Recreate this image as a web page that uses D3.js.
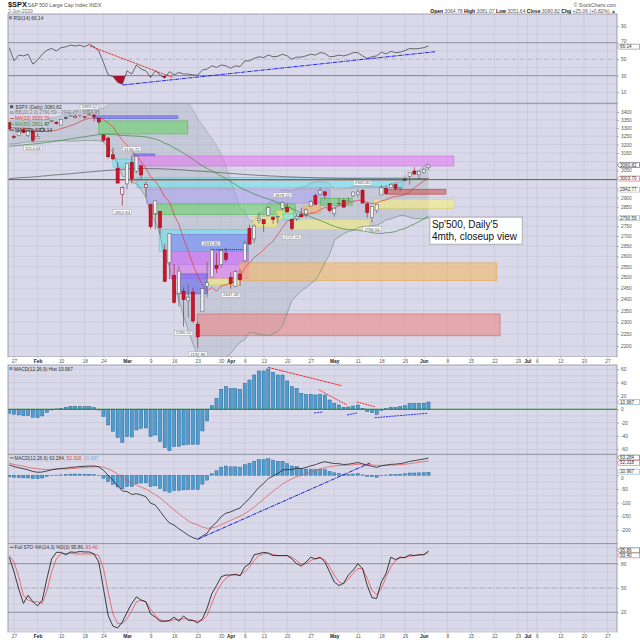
<!DOCTYPE html>
<html><head><meta charset="utf-8">
<script src="https://cdn.jsdelivr.net/npm/d3@7"></script>
<style>
html,body{margin:0;padding:0;background:#fff;}
svg{display:block;font-family:"Liberation Sans",Arial,sans-serif;}
</style></head><body>
<svg id="c" width="640" height="640"></svg>
<script>
// ---------- DATA ----------
const dates = ["Jan 24","Jan 27","Jan 28","Jan 29","Jan 30","Jan 31","Feb 3","Feb 4","Feb 5","Feb 6","Feb 7","Feb 10","Feb 11","Feb 12","Feb 13","Feb 14","Feb 18","Feb 19","Feb 20","Feb 21","Feb 24","Feb 25","Feb 26","Feb 27","Feb 28","Mar 2","Mar 3","Mar 4","Mar 5","Mar 6","Mar 9","Mar 10","Mar 11","Mar 12","Mar 13","Mar 16","Mar 17","Mar 18","Mar 19","Mar 20","Mar 23","Mar 24","Mar 25","Mar 26","Mar 27","Mar 30","Mar 31","Apr 1","Apr 2","Apr 3","Apr 6","Apr 7","Apr 8","Apr 9","Apr 13","Apr 14","Apr 15","Apr 16","Apr 17","Apr 20","Apr 21","Apr 22","Apr 23","Apr 24","Apr 27","Apr 28","Apr 29","Apr 30","May 1","May 4","May 5","May 6","May 7","May 8","May 11","May 12","May 13","May 14","May 15","May 18","May 19","May 20","May 21","May 22","May 26","May 27","May 28","May 29","Jun 1","Jun 2"];
const open = [3333.10,3247.16,3255.35,3289.46,3256.45,3282.33,3235.66,3280.61,3324.91,3344.92,3335.54,3318.28,3365.87,3370.50,3365.90,3378.08,3369.04,3380.39,3380.45,3360.50,3257.61,3238.94,3139.90,3062.54,2916.90,2974.28,3096.46,3045.75,3075.70,2954.20,2863.89,2813.48,2825.60,2630.86,2569.99,2508.59,2425.66,2436.50,2393.48,2431.94,2290.71,2344.44,2457.77,2501.29,2555.87,2558.98,2614.69,2498.08,2458.54,2514.92,2578.28,2738.65,2685.00,2776.99,2782.46,2805.10,2795.64,2799.34,2842.43,2845.62,2784.81,2787.89,2810.42,2812.64,2854.65,2909.96,2918.46,2930.91,2869.09,2815.01,2868.88,2883.14,2878.26,2908.83,2915.46,2939.50,2865.86,2794.54,2829.95,2913.86,2948.59,2953.63,2969.95,2948.05,3004.08,3015.65,3046.61,3025.17,3038.78,3064.78];
const high = [3333.18,3258.85,3285.78,3293.47,3285.91,3282.33,3268.44,3306.92,3337.58,3347.96,3341.42,3352.26,3375.63,3381.47,3385.09,3380.69,3375.01,3393.52,3389.15,3360.76,3259.81,3246.99,3182.51,3097.07,2959.72,3090.96,3136.72,3130.97,3083.04,2985.93,2863.89,2882.59,2825.60,2660.95,2711.33,2562.98,2553.93,2453.57,2466.97,2453.01,2300.73,2449.71,2571.42,2637.01,2615.91,2631.80,2641.39,2522.75,2533.22,2538.18,2676.85,2756.89,2760.75,2818.57,2782.46,2851.85,2801.88,2806.51,2879.22,2868.98,2785.54,2815.10,2844.90,2842.71,2887.72,2921.15,2954.86,2930.91,2869.09,2844.24,2898.23,2891.11,2901.92,2932.16,2944.25,2945.82,2874.14,2852.80,2865.01,2968.09,2964.21,2980.29,2978.50,2956.76,3021.72,3036.25,3068.67,3049.17,3062.18,3081.07];
const low = [3281.53,3234.50,3253.22,3271.89,3242.80,3214.68,3235.66,3280.61,3313.75,3334.39,3322.12,3317.77,3352.72,3369.72,3360.52,3366.15,3355.61,3378.83,3341.02,3328.45,3214.65,3118.77,3108.99,2977.39,2855.84,2945.19,2976.63,3034.38,2999.83,2901.54,2734.43,2734.00,2707.22,2478.86,2492.37,2380.94,2367.04,2280.52,2319.78,2295.56,2191.86,2344.44,2407.53,2500.72,2520.02,2545.28,2571.15,2447.49,2455.79,2459.96,2574.57,2657.67,2663.30,2762.36,2721.17,2805.10,2761.54,2764.32,2830.88,2820.43,2727.10,2775.95,2794.26,2791.76,2852.89,2860.71,2912.16,2892.47,2821.61,2797.85,2863.55,2847.65,2876.48,2902.88,2903.44,2869.59,2793.15,2766.64,2816.78,2913.86,2922.35,2953.63,2938.57,2933.59,2988.17,2969.75,3023.40,2998.61,3031.54,3051.64];
const close = [3295.47,3243.63,3276.24,3273.40,3283.66,3225.52,3248.92,3297.59,3334.69,3345.78,3327.71,3352.09,3357.75,3379.45,3373.94,3380.16,3370.29,3386.15,3373.23,3337.75,3225.89,3128.21,3116.39,2978.76,2954.22,3090.23,3003.37,3130.12,3023.94,2972.37,2746.56,2882.23,2741.38,2480.64,2711.02,2386.13,2529.19,2398.10,2409.39,2304.92,2237.40,2447.33,2475.56,2630.07,2541.47,2626.65,2584.59,2470.50,2526.90,2488.65,2663.68,2659.41,2749.98,2789.82,2761.63,2846.06,2783.36,2799.55,2874.56,2823.16,2736.56,2799.31,2797.80,2836.74,2878.48,2863.39,2939.51,2912.43,2830.71,2842.74,2868.44,2848.42,2881.19,2929.80,2930.32,2870.12,2820.00,2852.50,2863.70,2953.91,2922.94,2971.61,2948.51,2955.45,2991.77,3036.13,3029.73,3044.31,3055.73,3080.82];
const prevClose0 = 3325.54;

const ma10 = [3303.6,3301.4,3300.2,3299.3,3298.7,3289.6,3281.5,3279.2,3280.5,3282.5,3285.7,3296.6,3304.7,3315.3,3324.3,3339.8,3351.9,3360.8,3364.7,3363.9,3353.7,3331.3,3307.1,3267.1,3225.1,3196.1,3159.4,3133.8,3098.9,3062.4,3014.4,2989.8,2952.3,2902.5,2878.2,2807.8,2760.4,2687.2,2625.7,2559.0,2508.0,2464.6,2438.0,2452.9,2436.0,2460.0,2465.5,2472.8,2484.5,2502.9,2545.5,2566.7,2594.2,2610.2,2632.2,2654.1,2674.0,2706.9,2741.7,2775.1,2782.4,2796.4,2801.2,2805.9,2817.6,2819.3,2834.9,2846.2,2841.8,2843.8,2857.0,2861.9,2870.2,2879.5,2884.7,2885.4,2873.4,2867.4,2870.7,2881.8,2887.3,2899.6,2906.3,2908.9,2915.1,2931.7,2952.6,2971.8,2991.0,3003.7];
const ma50 = [3190,3192,3195,3198,3201,3203,3206,3209,3213,3217,3221,3225,3229,3234,3238,3243,3247,3252,3256,3260,3262,3262,3261,3258,3255,3254,3252,3251,3249,3246,3240.2,3233.0,3223.1,3208.3,3197.9,3180.4,3166.3,3149.4,3132.8,3113.8,3093.1,3076.7,3060.5,3047.4,3032.5,3018.7,3003.8,2986.7,2970.8,2954.1,2941.5,2929.8,2919.3,2909.6,2899.2,2891.6,2882.3,2872.3,2863.1,2852.6,2840.8,2829.8,2818.6,2807.7,2797.8,2787.5,2778.8,2769.4,2758.5,2748.6,2741.5,2735.9,2731.2,2730.2,2729.7,2725.3,2721.6,2716.1,2712.9,2712.5,2716.0,2717.8,2722.0,2731.5,2737.1,2750.1,2760.1,2773.0,2786.0,2801.5];
const ma200 = [3004,3006,3008,3010,3011,3013,3015,3018,3020,3023,3025,3027,3029,3031,3034,3036,3039,3041,3043,3046,3048,3050,3052,3054,3056,3058,3059,3060,3060,3061,3060,3060,3059,3058,3057,3055,3054,3052,3050,3048,3046,3045,3043,3041,3039,3037,3035,3033,3031,3029,3027,3025,3024,3022,3021,3019,3018,3017,3015,3014,3013,3012,3011,3010,3009,3008,3007,3007,3006,3006,3005,3005,3004,3004,3004,3003,3003,3003,3003,3003,3003,3003,3003,3003,3003,3003,3003.5,3004,3004,3004.14];
const bbUpper = [3343.6,3343.8,3343.6,3344.2,3344.8,3343.2,3343.9,3346.5,3353.4,3364.0,3366.7,3375.0,3382.5,3395.3,3401.5,3406.7,3408.7,3416.0,3420.6,3423.2,3423.7,3441.9,3461.9,3499.2,3532.7,3524.0,3527.7,3519.3,3521.8,3523.1,3562.0,3550.6,3549.7,3574.8,3551.6,3553.9,3519.9,3494.5,3458.3,3414.7,3359.2,3319.2,3275.1,3237.7,3193.1,3139.9,3073.0,2990.0,2917.1,2846.9,2826.8,2775.6,2778.1,2815.5,2822.1,2871.1,2889.8,2919.8,2943.1,2939.0,2934.0,2947.6,2957.7,2964.0,2978.9,2986.7,2986.5,2984.5,2975.7,2941.4,2945.7,2947.1,2949.7,2956.7,2961.1,2956.3,2960.2,2960.8,2958.3,2960.8,2962.1,2974.7,2980.3,2984.2,2995.9,3022.5,3037.0,3051.6,3072.9,3094.95];
const bbLower = [3203.6,3203.8,3207.6,3212.2,3216.8,3215.2,3215.9,3218.5,3221.4,3220.0,3222.7,3223.0,3222.5,3219.3,3221.5,3222.7,3224.7,3224.0,3224.6,3223.2,3215.7,3185.9,3149.9,3083.2,3016.7,3012.0,2983.7,2975.3,2941.8,2903.1,2806.0,2770.6,2709.7,2594.8,2551.6,2449.9,2399.9,2326.5,2266.3,2206.7,2163.2,2135.2,2115.1,2117.7,2121.1,2127.9,2153.0,2170.0,2193.1,2214.9,2226.8,2255.6,2254.1,2247.5,2246.1,2243.1,2249.8,2259.8,2283.1,2339.0,2394.0,2415.6,2437.7,2452.0,2470.9,2486.7,2522.5,2568.5,2607.7,2677.4,2693.7,2711.1,2721.7,2728.7,2741.1,2748.3,2748.2,2752.8,2754.3,2764.8,2782.1,2786.7,2796.3,2804.2,2803.9,2794.5,2789.0,2787.6,2788.9,2790.59];

const rsi = [64,48,55,54,56,44,49,56,61,63,60,64,65,67,66,67,65,68,65,60,46,31,29,22,19.5,36,32,43,38,36,28,36,31,27,35,31,34,32,32,31,30.5,37,38,42,40,43,42,39,42,41,48,48,51,53,52,55,53,53.5,56,54,50,52.5,52.5,54,56,55,58,57,53,53.5,55,54,55.5,58,58,54,51,53,54,58.5,56.5,59.5,58,58.5,60.5,63,62.5,63,64,66.14];
const macdHist = [-6,-7.5,-8.5,-9.5,-9.5,-12,-12.5,-10,-4.5,-1,0.5,1.5,3,4.5,4.5,4.5,4,4,2.5,-1,-11,-23.5,-33,-42.5,-49.5,-41,-41.5,-31,-28.5,-28,-41,-38.5,-48.5,-57.5,-62,-56,-55.5,-53.5,-52.5,-52.5,-52.5,-32.5,-17.5,5.5,16.5,30,34,31,31,30,39,44,51.5,57.5,57.5,60.5,55.5,51.5,51.5,42.5,34,31.5,24,22.5,22.5,21.5,22.5,21.5,14,9,6.5,3,3.5,5,6.5,1.5,-3.5,-5,-7.5,-1.5,1,3,3,4,5.5,8.5,8.5,9,9.2,10.967];
const macdLine = [38,32,28,24,20,14,11,12,16,20,23,25,26,29,30,32,33,34,34,31,18.3,-0.1,-17.9,-38,-57.4,-59.2,-70,-67.3,-71.9,-78.4,-101.7,-108.8,-130.9,-154.3,-174.3,-182.3,-195.7,-207.1,-219,-228,-234,-222.1,-211.5,-187.1,-172,-151,-138.5,-133.8,-126,-119.5,-100.8,-84.8,-64.4,-44,-29.6,-11.5,-2.6,6.3,19.2,20.8,20.8,26.2,24.7,28.8,34.4,38.8,45.4,49.8,45.8,43.1,42.2,39.4,40.8,43.6,46.7,42.1,36.2,33.4,29,34.6,37.4,40.1,40.9,42.9,45.8,50.9,53.5,56.5,59.5,63.28];
const macdSignal = [44,39.5,36.5,33.5,29.5,26,23.5,22,20.5,21,22.5,23.5,23,24.5,25.5,27.5,29,30,31.5,32,29.3,23.4,15.2,4.5,-7.9,-18.2,-28.5,-36.3,-43.4,-50.4,-60.7,-70.3,-82.4,-96.8,-112.3,-126.3,-140.2,-153.6,-166.5,-175.5,-181.5,-189.6,-194,-192.6,-188.5,-181,-172.5,-164.8,-157,-149.5,-139.8,-128.8,-115.9,-101.5,-87.1,-72,-58.1,-45.2,-32.3,-21.7,-13.2,-5.3,0.7,6.3,11.9,17.3,22.9,28.3,31.8,34.1,35.7,36.4,37.3,38.6,40.2,40.6,39.7,38.4,36.5,36.1,36.4,37.1,37.9,38.9,40.3,42.4,45,47.5,50.3,52.32];
const stoK = [88,70,49,31,41,33,28,35,62,86,94,94,91,94.5,94,95,94.5,94.5,92,82,49,16,3,0.7,8,20,31,39,35,33,18,14,9,9,10,14,9,15.5,10,10,7,12,25,43,53,64,66,66,67,65,76,80,91,92.5,94,93,90,90,90,90,86,80,77,82,88,86,88,82,70,57.5,53,56,66,72,80,74,53,38,37,57.5,68,88,85,88,87.5,91,90,91,91,95.86];
const stoD = [90,82,64,41,35,33,33,31,47,70,86,92.5,92.5,93,92,92,92,92,92,90,74,45,18,6,6,12,22,33,35,33,24,16,11,9,9,11,11,12,12,10,9,10,16,31,45,55,62,66,66,66,70,76,84,90,92.5,93,91.5,90,90,90,88,84,79,80,84,86,87,85,76,66,57.5,55,61,68,74,74,62,47,42,49,64,76,84,87,88,89,90,91,91.5,93.4];

// axis ticks (trading-day index -> label)
const tickIdx = [1,6,11,16,20,25,30,35,40,45,47,50,54,59,64,69,74,79,84,88,93,98,103,108,110,112,117,122,127];
const tickText = ["27","Feb","10","18","24","Mar","9","16","23","30","Apr","6","13","20","27","May","11","18","26","Jun","8","15","22","29","Jul","6","13","20","27"];
const monthNames = ["Feb","Mar","Apr","May","Jun","Jul"];

// annotation zones (trading-day index span, price span)
const zoneI0 = [17.8,19,26.3,26.7,22,27.1,29.2,30.7,51.7,56.8,62.4,60.2,77.4,66,79.8,58.1,31.8,34.1,34.1,35.8,42,48.8,39.9];
const zoneI1 = [35.8,37.9,30.9,94.4,26.7,83.6,68.1,60.7,56.8,60.2,66,76.6,94.4,72.8,92.7,61.7,50.7,50.7,50.7,42,49,103.5,104.2];
const zoneLo = [3358,3264,3133,3075,3069,2955,2870,2810,2745,2787,2816,2732,2842,2859,2918,2781,2622,2560,2493,2424,2466,2484,2242];
const zoneHi = [3376,3344,3145,3133,3115,3010,2946,2865,2797,2829,2855,2783,2890,2895,2945,2817,2733,2707,2622,2516,2493,2568,2335];
const zoneKind = ["blue","green","blue","magenta","cyan","cyan","lavender","green","yellow","yellow","orange","yellow","yellow","green","brick","cyan","cyan","purple","magenta","blue","yellow","orange","red"];

// price labels (index, price, text, above=1/below=-1)
const labelIdx = [17,5,26,24,42.8,37,40,47,58,60,75,77];
const labelPrice = [3393.52,3214.68,3136.72,2855.84,2631.80,2280.52,2191.86,2447.49,2879.22,2727.10,2945.82,2766.64];
const labelSide = [1,-1,1,-1,1,-1,-1,-1,1,-1,1,-1];

// ---------- LAYOUT / STYLE ----------
const svg = d3.select("#c");
const L = 8, R = 617;
const BG = "#d9d9ea", GRID = "#c4c4d7", BORDER = "#8e8e9e";
const FS = 4.8;
const P = {rsi:[14,103.3], main:[103.3,357], hist:[365,454.3], macd:[454.3,543.7], sto:[543.7,632.3]};
const ZC = {blue:"#6a6aee", green:"#6fd06f", magenta:"#e47ff0", cyan:"#72e2ee", lavender:"#aea6ee", yellow:"#f5ef80", orange:"#f2b86a", brick:"#c8605c", red:"#ea8a8a", purple:"#8c82ee"};
const ZS = {blue:"#5050e0", green:"#3fb03f", magenta:"#d060e0", cyan:"#40c8d8", lavender:"#9088e0", yellow:"#e0d040", orange:"#e0a040", brick:"#c02020", red:"#d05050", purple:"#6a60e0"};

const x = d3.scaleLinear().domain([0,129]).range([9.29,616.88]);
const yR = d3.scaleLinear().domain([0,100]).range([100.45,17.95]);
const yM = d3.scaleLog().domain([2200,3400]).range([346,112]);
const yH = d3.scaleLinear().domain([-60,60]).range([449.3,369.3]);
const yD = d3.scaleLinear().domain([-200,0]).range([530,475.3]);
const yS = d3.scaleLinear().domain([20,80]).range([612.3,563.7]);
const N = close.length;
const idx = d3.range(N);

svg.append("rect").attr("width",640).attr("height",640).attr("fill","#fff");
const defs = svg.append("defs");

function panel(name, tb, ys, grid){
  const [t,b] = tb;
  svg.append("rect").attr("x",L).attr("y",t).attr("width",R-L).attr("height",b-t).attr("fill",BG);
  defs.append("clipPath").attr("id","cp-"+name).append("rect").attr("x",L).attr("y",t).attr("width",R-L).attr("height",b-t);
  const g = svg.append("g").attr("clip-path",`url(#cp-${name})`);
  g.selectAll(null).data(grid).join("line").attr("x1",L).attr("x2",R)
    .attr("y1",d=>ys(d)).attr("y2",d=>ys(d)).attr("stroke",GRID).attr("stroke-width",0.6);
  g.selectAll(null).data(tickIdx).join("line").attr("y1",t).attr("y2",b)
    .attr("x1",d=>x(d)).attr("x2",d=>x(d)).attr("stroke",GRID).attr("stroke-width",0.6);
  return g;
}
function border(tb){
  svg.append("rect").attr("x",L).attr("y",tb[0]).attr("width",R-L).attr("height",tb[1]-tb[0])
    .attr("fill","none").attr("stroke",BORDER).attr("stroke-width",0.8);
}
function rightAxis(ys, ticks, shift){
  const a = svg.append("g").attr("transform",`translate(${R},0)`)
    .call(d3.axisRight(ys).tickValues(ticks).tickSize(2).tickPadding(2).tickFormat(d=>d));
  a.select(".domain").remove();
  a.selectAll("text").attr("font-size",FS).attr("fill","#555").attr("font-family","Liberation Sans, Arial, sans-serif")
    .attr("transform",d=>(shift && shift[d]) ? `translate(0,${shift[d]})` : null);
  a.selectAll("line").attr("stroke","#777").attr("stroke-width",0.5);
}
function valueBox(yv, txt, col){
  const g = svg.append("g");
  g.append("path").attr("d",`M${R+0.5},${yv} L${R+2.5},${yv-2.5} L639.5,${yv-2.5} L639.5,${yv+2.5} L${R+2.5},${yv+2.5} Z`)
    .attr("fill","#fff").attr("stroke",col).attr("stroke-width",0.5);
  g.append("text").attr("x",R+3).attr("y",yv+1.6).attr("font-size",4.6).attr("fill","#333").text(txt);
}
function lineOf(arr, ys){ return d3.line().x((d,i)=>x(i)).y(d=>ys(d))(arr); }
function seg(g, i0, v0, i1, v1, ys, col, dash, w){
  g.append("line").attr("x1",x(i0)).attr("y1",ys(v0)).attr("x2",x(i1)).attr("y2",ys(v1))
    .attr("stroke",col).attr("stroke-width",w||0.9).attr("stroke-dasharray",dash||null);
}
function xAxis(yPos){
  svg.append("rect").attr("x",L).attr("y",yPos).attr("width",R-L).attr("height",8).attr("fill","#fff");
  const a = svg.append("g").attr("transform",`translate(0,${yPos})`)
    .call(d3.axisBottom(x).tickValues(tickIdx).tickSize(1.5).tickPadding(0.6).tickFormat((d,i)=>tickText[i]));
  a.select(".domain").remove();
  a.selectAll("line").attr("stroke","#888").attr("stroke-width",0.5);
  a.selectAll("text").attr("font-size",FS).attr("font-family","Liberation Sans, Arial, sans-serif")
    .attr("font-weight",(d,i)=>monthNames.includes(tickText[i])?"bold":"normal")
    .attr("fill",(d,i)=>monthNames.includes(tickText[i])?"#222":"#555");
}

// ---------- HEADER ----------
const hdr = svg.append("g");
hdr.append("text").attr("x",8).attr("y",7.3).attr("font-size",7.4).attr("font-weight","bold").attr("fill","#111").text("$SPX");
hdr.append("text").attr("x",27.5).attr("y",7.3).attr("font-size",5.2).attr("fill","#555").text("S&P 500 Large Cap Index  INDX");
hdr.append("text").attr("x",8).attr("y",12.8).attr("font-size",4.9).attr("fill","#666").text("2-Jun-2020");
hdr.append("text").attr("x",616).attr("y",6.8).attr("font-size",4.9).attr("fill","#555").attr("text-anchor","end").text("© StockCharts.com");
const ohl = hdr.append("text").attr("x",616).attr("y",12.8).attr("font-size",5).attr("text-anchor","end").attr("fill","#555");
[["Open ",true],["3064.78  ",false],["High ",true],["3081.07  ",false],["Low ",true],["3051.64  ",false],["Close ",true],["3080.82  ",false],["Chg ",true],["+25.09 (+0.82%) ▲",false]]
  .forEach(([t,b])=>ohl.append("tspan").attr("font-weight",b?"bold":"normal").attr("fill",b?"#111":"#555").text(t));

// ---------- RSI PANEL ----------
const gR = panel("rsi", P.rsi, yR, [10,20,40,60,80,90]);
gR.append("line").attr("x1",L).attr("x2",R).attr("y1",yR(70)).attr("y2",yR(70)).attr("stroke","#8a8a9c").attr("stroke-width",0.9);
gR.append("line").attr("x1",L).attr("x2",R).attr("y1",yR(30)).attr("y2",yR(30)).attr("stroke","#8a8a9c").attr("stroke-width",0.9);
gR.append("line").attr("x1",L).attr("x2",R).attr("y1",yR(50)).attr("y2",yR(50)).attr("stroke","#9a9aaa").attr("stroke-width",0.6).attr("stroke-dasharray","4,1.5,1,1.5");
defs.append("clipPath").attr("id","below30").append("rect").attr("x",L).attr("y",yR(30)).attr("width",R-L).attr("height",P.rsi[1]-yR(30));
gR.append("path").attr("clip-path","url(#below30)")
  .attr("d", d3.area().x((d,i)=>x(i)).y0(yR(30)).y1(d=>yR(d))(rsi)).attr("fill","#b01030");
gR.append("path").attr("d",lineOf(rsi,yR)).attr("fill","none").attr("stroke","#4a4a4a").attr("stroke-width",0.8);
seg(gR,17.1,66,34.8,27.6,yR,"#e82020","2.5,0.8",0.9);
seg(gR,24.1,18.7,90.4,59.1,yR,"#1010f0","4,0.8,1,0.8",0.9);
border(P.rsi);
rightAxis(yR,[10,30,50,70,90],{70:-1.6});
valueBox(yR(66.14)+0.8,"66.14","#666");
svg.append("rect").attr("x",9).attr("y",16.2).attr("width",3).attr("height",3).attr("fill","#667").attr("opacity",0.7);
svg.append("text").attr("x",13.5).attr("y",19.6).attr("font-size",FS).attr("fill","#333").text("RSI(14) 66.14");

// ---------- MAIN PANEL ----------
const gM = panel("main", P.main, yM, d3.range(2200,3451,50));
gM.append("path").attr("d", d3.area().x((d,i)=>x(i)).y0(d=>yM(d)).y1((d,i)=>yM(bbUpper[i]))(bbLower))
  .attr("fill","#9aa7ae").attr("fill-opacity",0.3);
gM.selectAll(null).data(zoneKind).join("rect")
  .attr("x",(d,i)=>x(zoneI0[i])).attr("width",(d,i)=>x(zoneI1[i])-x(zoneI0[i]))
  .attr("y",(d,i)=>yM(zoneHi[i])).attr("height",(d,i)=>yM(zoneLo[i])-yM(zoneHi[i]))
  .attr("fill",d=>ZC[d]).attr("fill-opacity",0.62).attr("stroke",d=>ZS[d]).attr("stroke-opacity",0.8).attr("stroke-width",0.6);
gM.append("path").attr("d",lineOf(bbUpper,yM)).attr("fill","none").attr("stroke","#8a9a9e").attr("stroke-width",0.5);
gM.append("path").attr("d",lineOf(bbLower,yM)).attr("fill","none").attr("stroke","#6a8a7a").attr("stroke-width",0.6);
// user lines
seg(gM,-1,2998,130,2998,yM,"#2a8a2a",null,1.0);
seg(gM,22.9,2997,83.6,2997,yM,"#ee3030",null,1.0);
seg(gM,43,2631.8,50.5,2631.8,yM,"#2020e0","1.2,0.8",1.0);
gM.append("path").attr("d",lineOf(ma200,yM)).attr("fill","none").attr("stroke","#555").attr("stroke-width",0.7);
gM.append("path").attr("d",lineOf(ma50,yM)).attr("fill","none").attr("stroke","#3e8a3e").attr("stroke-width",0.7);
gM.append("path").attr("d",lineOf(ma10,yM)).attr("fill","none").attr("stroke","#e03a3a").attr("stroke-width",0.7);
// candles
const prevC = i => i===0 ? prevClose0 : close[i-1];
const isRed = i => close[i] < prevC(i);
gM.selectAll(null).data(idx).join("line")
  .attr("x1",i=>x(i)).attr("x2",i=>x(i)).attr("y1",i=>yM(high[i])).attr("y2",i=>yM(low[i]))
  .attr("stroke",i=>isRed(i)?"#9a1020":"#555").attr("stroke-width",0.6);
gM.selectAll(null).data(idx).join("rect")
  .attr("x",i=>x(i)-1.55).attr("width",3.1)
  .attr("y",i=>yM(Math.max(open[i],close[i])))
  .attr("height",i=>Math.max(0.6,Math.abs(yM(open[i])-yM(close[i]))))
  .attr("fill",i=> close[i]<open[i] ? (isRed(i)?"#d0142a":"#444") : "#eeeef5")
  .attr("stroke",i=>isRed(i)?"#8a0010":"#555").attr("stroke-width",0.5);
// price labels
labelIdx.forEach((li,k)=>{
  const cx = x(li), cy = yM(labelPrice[k]) - labelSide[k]*6.2;
  const t = labelPrice[k].toFixed(2);
  gM.append("rect").attr("x",cx-9.3).attr("y",cy-2.3).attr("width",18.6).attr("height",4.6)
    .attr("fill","#fff").attr("fill-opacity",0.9).attr("stroke","#999").attr("stroke-width",0.4);
  gM.append("text").attr("x",cx).attr("y",cy+1.6).attr("text-anchor","middle").attr("font-size",4.3).attr("fill","#555").text(t);
});
// annotation box
const bx0 = x(89.3), by0 = yM(2796), bx1 = x(108.9), by1 = yM(2659);
gM.append("rect").attr("x",bx0).attr("y",by0).attr("width",bx1-bx0).attr("height",by1-by0)
  .attr("fill","#fff").attr("stroke","#9a9a9a").attr("stroke-width",0.7);
gM.append("text").attr("x",bx0+2).attr("y",by0+10.8).attr("font-size",10).attr("fill","#111").text("Sp'500, Daily'5");
gM.append("text").attr("x",bx0+2).attr("y",by0+22.6).attr("font-size",10).attr("fill","#111").text("4mth, closeup view");
border(P.main);
rightAxis(yM, d3.range(2200,3401,50).filter(v=>![2800,2950,3000,3100].includes(v)));
valueBox(yM(3080.82),"3080.82","#333");
valueBox(yM(3003.70),"3003.70","#e03030");
valueBox(yM(2942.77),"2942.77","#8aa08a");
valueBox(yM(2790.59),"2790.59","#7a9a8a");
// legend
const leg = svg.append("g").attr("font-size",FS);
leg.append("rect").attr("x",10).attr("y",105.3).attr("width",3.2).attr("height",3).attr("fill","#555");
leg.append("text").attr("x",15.5).attr("y",108.5).attr("fill","#333").text("$SPX (Daily) 3080.82");
leg.append("rect").attr("x",10).attr("y",111.3).attr("width",3.2).attr("height",2.6).attr("fill","#a8b4b8").attr("stroke","#889").attr("stroke-width",0.3);
leg.append("text").attr("x",15).attr("y",114.3).attr("fill","#7a7a7a").text("BB(20,2.0) 2790.59 - 2942.77 - 3094.95");
[["MA(10) 3003.70","#d83030"],["MA(50) 2801.47","#3a8a3a"],["MA(200) 3004.14","#222"]].forEach(([t,c],k)=>{
  const yy = 120 + k*5.8;
  leg.append("line").attr("x1",10).attr("x2",14).attr("y1",yy-1.5).attr("y2",yy-1.5).attr("stroke",c).attr("stroke-width",0.8);
  leg.append("text").attr("x",15).attr("y",yy).attr("fill",c).text(t);
});

// ---------- X AXES ----------
xAxis(357);

// ---------- MACD HISTOGRAM ----------
const gH = panel("hist", P.hist, yH, d3.range(-70,71,10));
gH.selectAll(null).data(macdHist).join("rect")
  .attr("x",(d,i)=>x(i)-1.6).attr("width",3.2)
  .attr("y",d=>yH(Math.max(0,d))).attr("height",d=>Math.abs(yH(d)-yH(0)))
  .attr("fill","#4d9dd0").attr("stroke","#245f90").attr("stroke-width",0.45);
gH.append("line").attr("x1",L).attr("x2",R).attr("y1",yH(0)).attr("y2",yH(0)).attr("stroke","#148a14").attr("stroke-width",1.1);
seg(gH,54.9,63,70.6,35.4,yH,"#e82020","3,0.6",0.9);
seg(gH,65.8,29,71.7,6.4,yH,"#e82020","2,0.8",0.9);
seg(gH,73.8,11,77.6,3.9,yH,"#e82020","2,0.8",0.9);
seg(gH,64.7,-5.5,66.6,-4,yH,"#2020e8","2,0.8",0.9);
seg(gH,71.7,-8.5,73.8,-5.5,yH,"#2020e8","2,0.8",0.9);
seg(gH,77.6,-12.6,88.7,-6,yH,"#2020e8","2,0.8",0.9);
border(P.hist);
rightAxis(yH,[60,40,20,0,-20,-40,-60]);
valueBox(yH(10.967),"10.967","#4d9dd0");
svg.append("rect").attr("x",9.5).attr("y",367).attr("width",3).attr("height",3).attr("fill","#4d9dd0");
svg.append("text").attr("x",14).attr("y",370.8).attr("font-size",FS).attr("fill","#333").text("MACD(12,26,9) Hist 10.967");

// ---------- MACD ----------
const gD = panel("macd", P.macd, yD, d3.range(-250,76,25));
gD.selectAll(null).data(macdHist).join("rect")
  .attr("x",(d,i)=>x(i)-1.6).attr("width",3.2)
  .attr("y",d=>yD(Math.max(0,d))).attr("height",d=>Math.abs(yD(d)-yD(0)))
  .attr("fill","#4d9dd0").attr("stroke","#245f90").attr("stroke-width",0.4);
gD.append("path").attr("d",lineOf(macdSignal,yD)).attr("fill","none").attr("stroke","#e85050").attr("stroke-width",0.7);
gD.append("path").attr("d",lineOf(macdLine,yD)).attr("fill","none").attr("stroke","#222").attr("stroke-width",0.8);
seg(gD,40.1,-233,76.6,45,yD,"#1818f0","4,0.8,1,0.8",1.0);
border(P.macd);
rightAxis(yD,[0,-50,-100,-150,-200],{0:2.2});
valueBox(yD(63.284)-0.4,"63.284","#333");
valueBox(yD(63.284)+4.9,"52.318","#e03030");
valueBox(yD(10.967)-0.6,"10.967","#4d9dd0");
svg.append("line").attr("x1",10).attr("x2",13.5).attr("y1",457.9).attr("y2",457.9).attr("stroke","#333").attr("stroke-width",0.8);
const mt = svg.append("text").attr("x",14.5).attr("y",459.6).attr("font-size",FS);
mt.append("tspan").attr("fill","#333").text("MACD(12,26,9) 63.284, ");
mt.append("tspan").attr("fill","#e04040").text("52.318, ");
mt.append("tspan").attr("fill","#6aaedc").text("10.967");

// ---------- FULL STO ----------
const gS = panel("sto", P.sto, yS, d3.range(0,101,10));
gS.append("line").attr("x1",L).attr("x2",R).attr("y1",yS(80)).attr("y2",yS(80)).attr("stroke","#8a8a9c").attr("stroke-width",0.9);
gS.append("line").attr("x1",L).attr("x2",R).attr("y1",yS(20)).attr("y2",yS(20)).attr("stroke","#8a8a9c").attr("stroke-width",0.9);
gS.append("line").attr("x1",L).attr("x2",R).attr("y1",yS(50)).attr("y2",yS(50)).attr("stroke","#9a9aaa").attr("stroke-width",0.6).attr("stroke-dasharray","4,1.5,1,1.5");
gS.append("path").attr("d",lineOf(stoD,yS)).attr("fill","none").attr("stroke","#ee4040").attr("stroke-width",0.7);
gS.append("path").attr("d",lineOf(stoK,yS)).attr("fill","none").attr("stroke","#111").attr("stroke-width",0.8);
border(P.sto);
rightAxis(yS,[80,50,20]);
valueBox(yS(95.86)+4.4,"93.40","#e03030");
valueBox(yS(95.86)-0.6,"95.86","#333");
svg.append("line").attr("x1",10).attr("x2",13.5).attr("y1",547.3).attr("y2",547.3).attr("stroke","#333").attr("stroke-width",0.8);
const st = svg.append("text").attr("x",14.5).attr("y",549).attr("font-size",FS);
st.append("tspan").attr("fill","#333").text("Full STO %K(14,3) %D(3) 95.86, ");
st.append("tspan").attr("fill","#e04040").text("93.40");

xAxis(632.3);
</script></body></html>
